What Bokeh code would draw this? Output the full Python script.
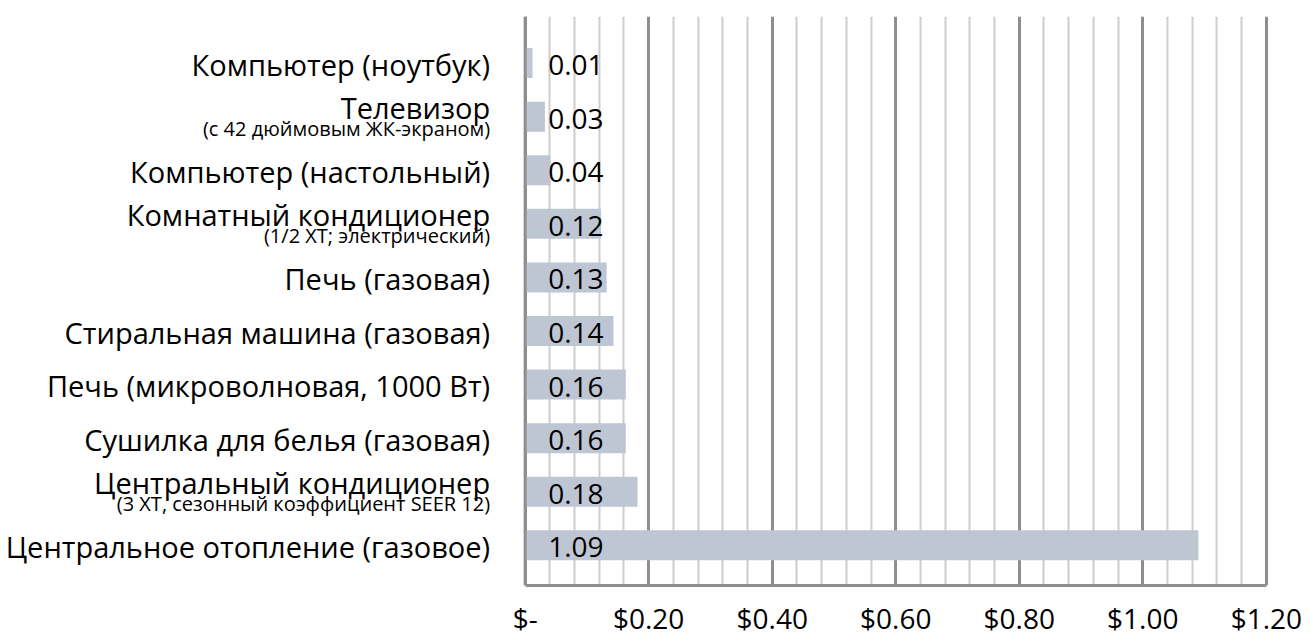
from bokeh.plotting import figure
from bokeh.models import ColumnDataSource, Range1d, FixedTicker, Span
from bokeh.core.properties import value
from bokeh.embed import file_html
from bokeh.resources import INLINE

# ---- data (top to bottom as in the chart) ----
names = [
    "Компьютер (ноутбук)",
    "Телевизор",
    "Компьютер (настольный)",
    "Комнатный кондиционер",
    "Печь (газовая)",
    "Стиральная машина (газовая)",
    "Печь (микроволновая, 1000 Вт)",
    "Сушилка для белья (газовая)",
    "Центральный кондиционер",
    "Центральное отопление (газовое)",
]
subtitles = [
    "",
    "(с 42 дюймовым ЖК-экраном)",
    "",
    "(1/2 ХТ; электрический)",
    "",
    "",
    "",
    "",
    "(3 ХТ, сезонный коэффициент SEER 12)",
    "",
]
costs = [0.012, 0.032, 0.041, 0.123, 0.132, 0.143, 0.163, 0.163, 0.182, 1.09]

x_ticks = [0.0, 0.2, 0.4, 0.6, 0.8, 1.0, 1.2]
x_tick_labels = ["$-", "$0.20", "$0.40", "$0.60", "$0.80", "$1.00", "$1.20"]
x_minor_ticks = [0.04, 0.08, 0.12, 0.16, 0.24, 0.28, 0.32, 0.36, 0.44, 0.48, 0.52, 0.56,
                 0.64, 0.68, 0.72, 0.76, 0.84, 0.88, 0.92, 0.96, 1.04, 1.08, 1.12, 1.16]

FONT = "Open Sans"
MAJOR = "#8e8e8e"
MINOR = "#cdcdcd"
BAR = "#bec6d4"

n = len(names)
ypos = [n - 1 - i for i in range(n)]
value_labels = ["%.2f" % v for v in costs]

src = ColumnDataSource(dict(y=ypos, v=costs, lbl=value_labels))

single = [i for i in range(n) if not subtitles[i]]
double = [i for i in range(n) if subtitles[i]]
src_single = ColumnDataSource(dict(y=[ypos[i] for i in single], t=[names[i] for i in single]))
src_main = ColumnDataSource(dict(y=[ypos[i] for i in double], t=[names[i] for i in double]))
src_sub = ColumnDataSource(dict(y=[ypos[i] for i in double], t=[subtitles[i] for i in double]))

p = figure(width=1305, height=641, output_backend="svg", toolbar_location=None,
           x_range=Range1d(-0.8494, 1.21), y_range=Range1d(-0.75, 9.87),
           y_axis_location=None,
           min_border_left=0, min_border_right=33, min_border_top=16, min_border_bottom=56)
p.outline_line_color = None
p.background_fill_color = "white"
p.border_fill_color = "white"

# x axis
p.xaxis.ticker = FixedTicker(ticks=x_ticks, minor_ticks=x_minor_ticks)
p.xaxis.bounds = (0, 1.2)
p.xaxis.major_label_overrides = {t: l for t, l in zip(x_ticks, x_tick_labels)}
p.xaxis.major_tick_line_color = None
p.xaxis.minor_tick_line_color = None
p.xaxis.major_tick_out = 0
p.xaxis.minor_tick_out = 0
p.xaxis.axis_line_color = MAJOR
p.xaxis.axis_line_width = 3
p.xaxis.major_label_text_font = FONT
p.xaxis.major_label_text_font_size = "28px"
p.xaxis.major_label_text_color = "black"
p.xaxis.major_label_standoff = 13

# grids
p.xgrid.bounds = (0, 1.2)
p.xgrid.grid_line_color = MAJOR
p.xgrid.grid_line_width = 3
p.xgrid.minor_grid_line_color = MINOR
p.xgrid.minor_grid_line_width = 2
p.ygrid.grid_line_color = None

p.hbar(y="y", left=0, right="v", height=0.56, source=src, fill_color=BAR, line_color=None)
p.add_layout(Span(location=0, dimension="height", line_color=MAJOR, line_width=3))

p.text(x=0, y="y", text="lbl", source=src, x_offset=23, y_offset=2, text_baseline="middle",
       text_align="left", text_font=value(FONT), text_font_size="28px", text_color="black")

p.text(x=0, y="y", text="t", source=src_single, x_offset=-35, y_offset=1,
       text_align="right", text_baseline="middle", text_font=value(FONT),
       text_font_size="29px", text_color="black")
p.text(x=0, y="y", text="t", source=src_main, x_offset=-35, y_offset=-9,
       text_align="right", text_baseline="middle", text_font=value(FONT),
       text_font_size="29px", text_color="black")
p.text(x=0, y="y", text="t", source=src_sub, x_offset=-35, y_offset=12,
       text_align="right", text_baseline="middle", text_font=value(FONT),
       text_font_size="20px", text_color="black")

open("out.html", "w").write(file_html(p, INLINE))
